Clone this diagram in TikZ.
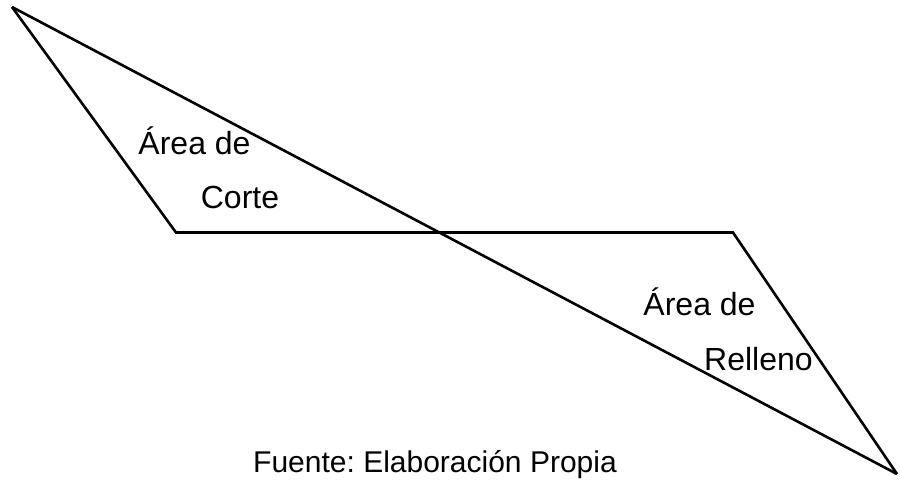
\documentclass[tikz,border=0pt]{standalone}
\usepackage{fontspec}
\setmainfont{Liberation Sans}
\usepackage{tikz}
\usetikzlibrary{positioning}
\frenchspacing

\begin{document}
\begin{tikzpicture}[x=1pt,y=-1pt,line width=2.6pt,
	area label/.style={anchor=base,inner sep=0pt,font=\fontsize{32}{34}\selectfont},
	source label/.style={anchor=base,inner sep=0pt,font=\fontsize{30}{32}\selectfont}]

	\useasboundingbox (0,0) rectangle (900,481);

	% corners of the section
	\coordinate (top) at (12,7);
	\coordinate (cutcorner) at (176,232.5);
	\coordinate (fillcorner) at (733,232.5);
	\coordinate (bottom) at (897,474);

	\draw (top) -- (cutcorner) -- (fillcorner) -- (bottom);
	\draw (top) -- (bottom);

	% labels
	\node[area label] (cut1) at (194.5,155) {Área de};
	\node[area label] (cut2) at (240,209) {Corte};
	\node[area label] (fill1) at (699.5,315) {Área de};
	\node[area label] (fill2) at (758.5,370) {Relleno};
	\node[source label] (source) at (435,472) {Fuente: Elaboración Propia};

\end{tikzpicture}
\end{document}
